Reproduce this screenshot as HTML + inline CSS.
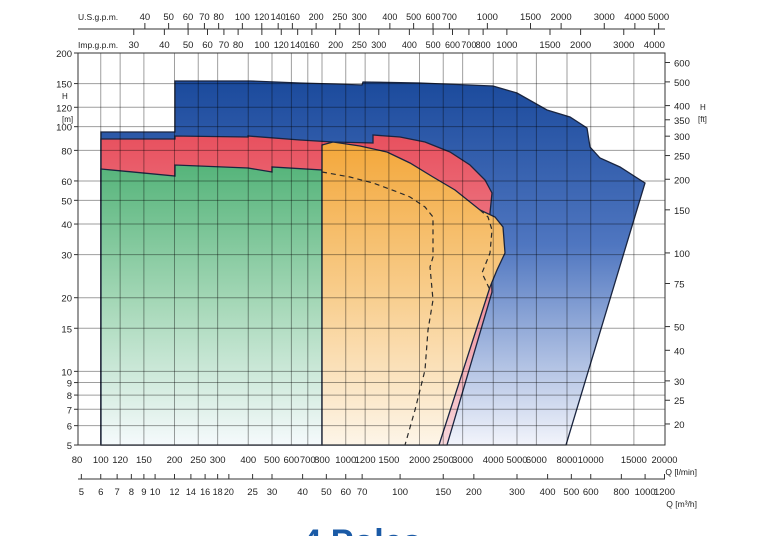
<!DOCTYPE html>
<html><head><meta charset="utf-8"><style>
html,body{margin:0;padding:0;background:#fff;width:768px;height:536px;overflow:hidden;}
svg{display:block;font-family:"Liberation Sans",sans-serif;}
</style></head><body>
<svg id="s" width="768" height="536" viewBox="0 0 768 536" xmlns="http://www.w3.org/2000/svg" overflow="hidden">
<defs>
<linearGradient id="gb" x1="0" y1="0" x2="0" y2="1"><stop offset="0" stop-color="#1b4a9c"/><stop offset="0.45" stop-color="#4f76c0"/><stop offset="1" stop-color="#f2f4fb"/></linearGradient>
<linearGradient id="gr" x1="0" y1="0" x2="0" y2="1"><stop offset="0" stop-color="#e8505e"/><stop offset="0.5" stop-color="#ee8b96"/><stop offset="1" stop-color="#f8d8dc"/></linearGradient>
<linearGradient id="gg" x1="0" y1="0" x2="0" y2="1"><stop offset="0" stop-color="#55b47a"/><stop offset="0.5" stop-color="#a6d8b8"/><stop offset="1" stop-color="#f5fafc"/></linearGradient>
<linearGradient id="go" x1="0" y1="0" x2="0" y2="1"><stop offset="0" stop-color="#f3a73a"/><stop offset="0.5" stop-color="#f8cd8c"/><stop offset="1" stop-color="#fdf5e8"/></linearGradient>
<clipPath id="cp"><rect x="0" y="0" width="768" height="536"/></clipPath>
</defs>
<g id="fills">
<polygon fill="url(#gb)" stroke="#1a2540" stroke-width="1.3" points="101,132 175,132 175,81 250,81 300,83 335,84 362,85 363,82 420,83 493,86 517,93 547,110 570,117 587,128 590,147 600,158 620,167 645,183 566,445 101,445"/>
<polygon fill="url(#gr)" stroke="#1a2540" stroke-width="1.3" points="101,139 175,139 175,136 248,137 248,136 300,140 333,142 373,143 373,135 400,137 425,142 450,152 470,165 485,180 492,193 490,213 492,292 447,445 439,445 101,445"/>
<polygon fill="url(#gg)" stroke="#1a2540" stroke-width="1.3" points="101,169 175,176 175,165 248,168 272,172 272,167 322,170 322,445 101,445"/>
<polygon fill="url(#go)" stroke="#1a2540" stroke-width="1.3" points="322,145 333,142 360,146 387,152 410,163 433,177 455,190 480,210 495,217 503,227 505,253 497,270 490,287 439,445 322,445"/>
<polyline fill="none" stroke="#2a2a2a" stroke-width="1.2" stroke-dasharray="5,4" points="322,172 350,177 373,183 395,191 410,197 425,207 433,217 433,257 430,267 433,300 428,330 425,370 415,410 405,445"/>
<polyline fill="none" stroke="#2a2a2a" stroke-width="1.2" stroke-dasharray="5,4" points="480,210 488,217 492,230 490,253 482,273 490,290"/>
</g>
<g id="grid"></g>
<g id="ax"></g>
<g clip-path="url(#cp)"><text x="362" y="553" font-size="34" font-weight="bold" fill="#1a5aa6" text-anchor="middle">4 Poles</text></g>
</svg>
<script>
var NS="http://www.w3.org/2000/svg";
function X(q){return 77+(Math.log10(q)-Math.log10(80))*245;}
function Y(h){return 53+(Math.log10(200)-Math.log10(h))*244.7;}
function el(p,t,a,txt){var e=document.createElementNS(NS,t);for(var k in a){if(a[k]!=null)e.setAttribute(k,a[k]);}if(txt!=null)e.textContent=txt;document.getElementById(p).appendChild(e);return e;}
var L=78,R=665,T=53,B=445,FS=9.5;
var qs=[100,120,150,200,250,300,400,500,600,700,800,1000,1200,1500,2000,2500,3000,4000,5000,6000,8000,10000,15000];
qs.forEach(function(q){el("grid","line",{x1:X(q),x2:X(q),y1:T,y2:B,stroke:"rgba(0,0,0,0.38)","stroke-width":1});});
var hs=[150,120,100,80,60,50,40,30,20,15,10,9,8,7,6];
hs.forEach(function(h){el("grid","line",{x1:L,x2:R,y1:Y(h),y2:Y(h),stroke:"rgba(0,0,0,0.38)","stroke-width":1});});
el("ax","rect",{x:L,y:T,width:R-L,height:B-T,fill:"none",stroke:"#333","stroke-width":1});
[200,150,120,100,80,60,50,40,30,20,15,10,9,8,7,6,5].forEach(function(h){var y=Y(h);el("ax","line",{x1:L-4,x2:L,y1:y,y2:y,stroke:"#333"});el("ax","text",{x:L-6,y:y+4,"font-size":FS,"text-anchor":"end",fill:"#222"},h);});
el("ax","text",{x:62,y:99,"font-size":8,fill:"#222"},"H");el("ax","text",{x:62,y:122,"font-size":8,fill:"#222"},"[m]");
[600,500,400,350,300,250,200,150,100,75,50,40,30,25,20].forEach(function(f){var y=Y(f*0.3048);el("ax","line",{x1:R,x2:R+5,y1:y,y2:y,stroke:"#333"});el("ax","text",{x:R+9,y:y+4,"font-size":FS,fill:"#222"},f);});
el("ax","text",{x:700,y:110,"font-size":8,fill:"#222"},"H");el("ax","text",{x:698,y:122,"font-size":8,fill:"#222"},"[ft]");
[80].concat(qs).concat([20000]).forEach(function(q){el("ax","text",{x:X(q),y:463,"font-size":FS,"text-anchor":"middle",fill:"#222",textLength:(q>=1000?(q>=10000?26:21):null),lengthAdjust:"spacingAndGlyphs"},q);});
el("ax","text",{x:697,y:475,"font-size":8.5,"text-anchor":"end",fill:"#222"},"Q [l/min]");
el("ax","line",{x1:78,x2:665,y1:479,y2:479,stroke:"#333"});
[5,6,7,8,9,10,12,14,16,18,20,25,30,40,50,60,70,100,150,200,300,400,500,600,800,1000,1200].forEach(function(m){var x=X(m/0.06);el("ax","line",{x1:x,x2:x,y1:474,y2:479,stroke:"#333"});el("ax","text",{x:x,y:495,"font-size":FS,"text-anchor":"middle",fill:"#222",textLength:(m>=1000?21:(m>=12&&m<=20?10:null)),lengthAdjust:"spacingAndGlyphs"},m);});
el("ax","text",{x:697,y:507,"font-size":8.5,"text-anchor":"end",fill:"#222"},"Q [m³/h]");
el("ax","line",{x1:78,x2:665,y1:29,y2:29,stroke:"#333"});
el("ax","text",{x:78,y:20,"font-size":8.5,fill:"#222"},"U.S.g.p.m.");
el("ax","text",{x:78,y:48,"font-size":8.5,fill:"#222"},"Imp.g.p.m.");
[40,50,60,70,80,100,120,140,160,200,250,300,400,500,600,700,1000,1500,2000,3000,4000,5000].forEach(function(g){var x=X(g*3.785);el("ax","line",{x1:x,x2:x,y1:23,y2:29,stroke:"#333"});el("ax","text",{x:x,y:20,"font-size":FS,"text-anchor":"middle",fill:"#222",textLength:(g>=100&&g<1000?15:null),lengthAdjust:"spacingAndGlyphs"},g);});
[30,40,50,60,70,80,100,120,140,160,200,250,300,400,500,600,700,800,1000,1500,2000,3000,4000].forEach(function(g){var x=X(g*4.546);el("ax","line",{x1:x,x2:x,y1:29,y2:35,stroke:"#333"});el("ax","text",{x:x,y:48,"font-size":FS,"text-anchor":"middle",fill:"#222",textLength:(g>=100&&g<1000?15:null),lengthAdjust:"spacingAndGlyphs"},g);});
</script>
</body></html>
